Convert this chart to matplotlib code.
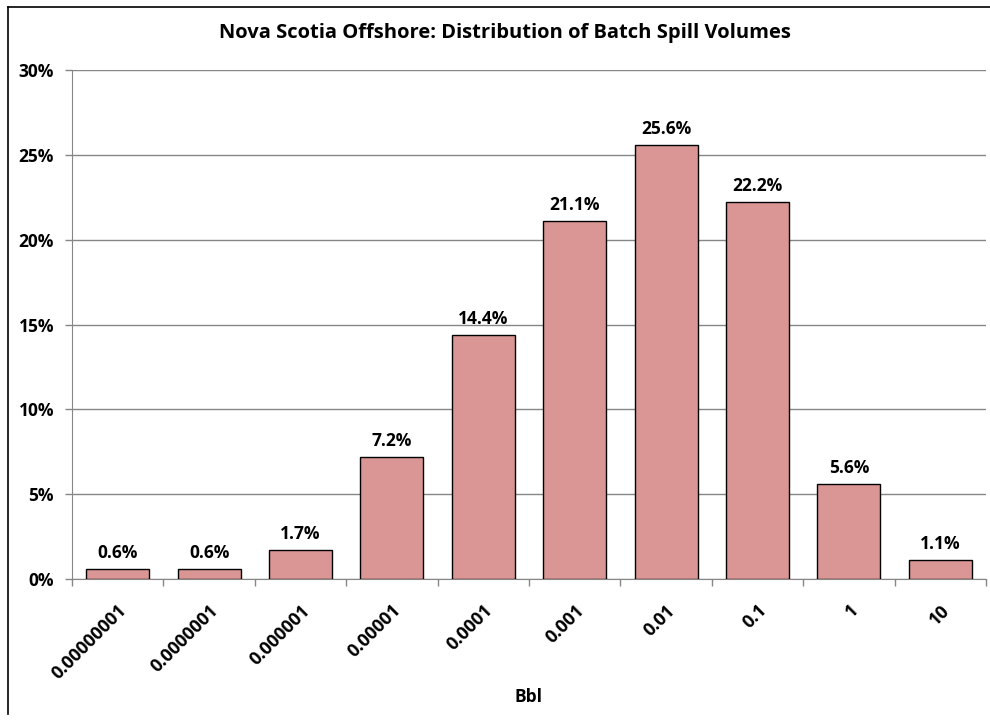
import matplotlib
matplotlib.use('Agg')
import matplotlib.pyplot as plt
from matplotlib.lines import Line2D
from matplotlib.ticker import FuncFormatter, FixedLocator

matplotlib.rcParams['font.family'] = ['Open Sans', 'DejaVu Sans']
matplotlib.rcParams['font.weight'] = 'bold'

# spill volume bins (Bbl) and share of batch spills (%)
bins = ['0.00000001', '0.0000001', '0.000001', '0.00001', '0.0001',
        '0.001', '0.01', '0.1', '1', '10']
share = [0.6, 0.6, 1.7, 7.2, 14.4, 21.1, 25.6, 22.2, 5.6, 1.1]
y_ticks = [0, 5, 10, 15, 20, 25, 30]

grey = '#868686'
fs = 12.5

fig = plt.figure(figsize=(9.9, 7.23), dpi=100)
ax = fig.add_axes([72 / 990, 1 - 579 / 723, 914 / 990, 509 / 723])

x = range(len(bins))
bars = ax.bar(x, share, width=0.69, color='#D99694', edgecolor='black',
              linewidth=1.0, zorder=3)

for b, v in zip(bars, share):
    ax.annotate('%.1f%%' % v, (b.get_x() + b.get_width() / 2, v),
                xytext=(0, 5), textcoords='offset points',
                ha='center', va='bottom', fontsize=fs, fontweight='bold')

ax.set_xlim(-0.5, len(bins) - 0.5)
ax.set_ylim(0, 30)
ax.set_yticks(y_ticks)
ax.yaxis.set_major_formatter(FuncFormatter(lambda v, p: '%d%%' % v))
ax.grid(axis='y', color=grey, linewidth=1.0, zorder=0)

# category labels at centres, tick marks on the boundaries
ax.set_xticks(list(x))
ax.set_xticklabels(bins, rotation=45, ha='right', rotation_mode='anchor',
                   fontsize=13, fontweight='bold')
ax.tick_params(axis='x', length=0, pad=16)
ax.xaxis.set_minor_locator(FixedLocator([i - 0.5 for i in range(len(bins) + 1)]))
ax.tick_params(axis='x', which='minor', length=5, color=grey, width=1)
ax.tick_params(axis='y', length=5, color=grey, width=1, labelsize=fs, pad=8)
for lab in ax.get_yticklabels():
    lab.set_fontweight('bold')

for s in ['top', 'right']:
    ax.spines[s].set_visible(False)
ax.spines['left'].set_color(grey)
ax.spines['bottom'].set_color(grey)

ax.set_xlabel('Bbl', fontsize=fs, fontweight='bold', va='center')
ax.xaxis.set_label_coords(0.5, (579 - 697) / 509)

fig.text(505 / 990, 1 - 33 / 723,
         'Nova Scotia Offshore: Distribution of Batch Spill Volumes',
         ha='center', va='center', fontsize=14.5, fontweight='bold')

# chart frame edges
fig.add_artist(Line2D([8 / 990, 1.0], [1 - 7 / 723, 1 - 7 / 723],
                      transform=fig.transFigure, color='black', linewidth=1.2))
fig.add_artist(Line2D([8 / 990, 8 / 990], [1 - 7 / 723, 1 - 714 / 723],
                      transform=fig.transFigure, color='black', linewidth=1.2))

fig.savefig('out.png', dpi=100)
